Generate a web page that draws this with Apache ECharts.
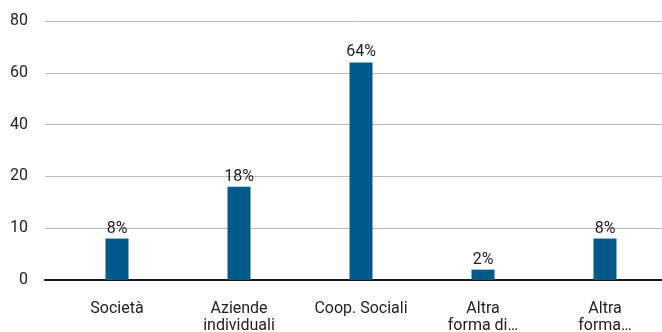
<!DOCTYPE html>
<html>
<head>
<meta charset="utf-8">
<script src="https://cdn.jsdelivr.net/npm/echarts@6/dist/echarts.min.js"></script>
<style>
  html, body { margin: 0; padding: 0; background: #fff; }
  #chart { width: 662px; height: 332px; }
</style>
</head>
<body>
<div id="chart"></div>
<script>
// Forma giuridica delle imprese (%)
const categories = ['Società', 'Aziende\nindividuali', 'Coop. Sociali', 'Altra\nforma di…', 'Altra\nforma…'];
const shares = [8, 18, 64, 2, 8];
// Tick values of the y axis, drawn at equal steps
const tickValues = [0, 10, 20, 40, 60, 80];

// Map a value onto the evenly spaced tick positions (piecewise linear)
function toSlot(v) {
  for (let i = 1; i < tickValues.length; i++) {
    if (v <= tickValues[i]) {
      const a = tickValues[i - 1], b = tickValues[i];
      return (i - 1) + (v - a) / (b - a);
    }
  }
  return tickValues.length - 1;
}

const font = 'Roboto, "Noto Sans", sans-serif';
const chart = echarts.init(document.getElementById('chart'), null, { renderer: 'canvas' });

chart.setOption({
  animation: false,
  grid: [
    { left: 45, right: 0, top: 21, bottom: 52, outerBoundsMode: 'none', containLabel: false },
    { left: 56, width: 610, top: 21, bottom: 52, outerBoundsMode: 'none', containLabel: false }
  ],
  xAxis: [
    {
      type: 'category', gridIndex: 0, data: categories,
      axisLine: { show: true, lineStyle: { color: '#1a1a1a', width: 2 } },
      axisTick: { show: false }, axisLabel: { show: false }
    },
    {
      type: 'category', gridIndex: 1, data: categories,
      axisLine: { show: false }, axisTick: { show: false },
      axisLabel: {
        interval: 0, margin: 20, fontSize: 16, lineHeight: 17,
        color: '#222', fontFamily: font
      }
    }
  ],
  yAxis: [
    {
      type: 'value', gridIndex: 0, min: 0, max: tickValues.length - 1, interval: 1,
      axisLine: { show: false }, axisTick: { show: false },
      axisLabel: {
        margin: 17, fontSize: 16, color: '#222', fontFamily: font,
        formatter: v => String(tickValues[Math.round(v)])
      },
      splitLine: { lineStyle: { color: '#bcbcbc', width: 1 } }
    },
    {
      type: 'value', gridIndex: 1, min: 0, max: tickValues.length - 1, interval: 1,
      show: false, splitLine: { show: false }
    }
  ],
  series: [{
    type: 'bar',
    xAxisIndex: 1, yAxisIndex: 1,
    barWidth: 23,
    itemStyle: { color: '#005a8c' },
    data: shares.map(v => toSlot(v)),
    label: {
      show: true, position: 'top', distance: 2,
      fontSize: 16, color: '#222', fontFamily: font,
      formatter: p => shares[p.dataIndex] + '%'
    }
  }]
});
</script>
</body>
</html>
